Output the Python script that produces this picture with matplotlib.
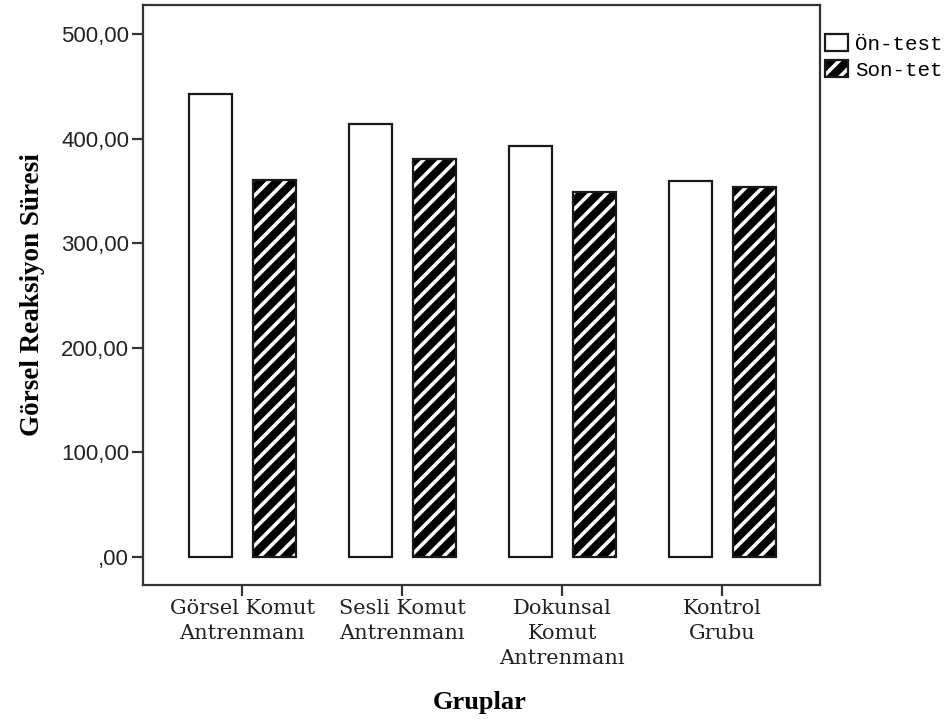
import matplotlib
matplotlib.use("Agg")
import matplotlib.pyplot as plt
import numpy as np
from matplotlib.patches import Patch
from matplotlib.legend_handler import HandlerTuple

categories = ["Görsel Komut\nAntrenmanı", "Sesli Komut\nAntrenmanı",
              "Dokunsal\nKomut\nAntrenmanı", "Kontrol\nGrubu"]
on_test = [443, 414, 393, 360]
son_test = [361, 381, 349, 354]
series_names = ["Ön-test", "Son-tet"]
yticks = [0, 100, 200, 300, 400, 500]
ytick_labels = [",00", "100,00", "200,00", "300,00", "400,00", "500,00"]

plt.rcParams['hatch.linewidth'] = 2.6

fig = plt.figure(figsize=(9.49, 7.19), dpi=100)
ax = fig.add_axes([143/949, 1-585/719, (820-143)/949, (585-5)/719])

x = np.arange(len(categories))
w = 0.27
off = 0.2
edge = "#1a1a1a"
ax.bar(x - off, on_test, w, facecolor="white", edgecolor=edge, linewidth=1.6, zorder=2)
ax.bar(x + off, son_test, w, facecolor="black", edgecolor="white", hatch="//", linewidth=0, zorder=2)
ax.bar(x + off, son_test, w, fill=False, edgecolor=edge, linewidth=1.6, zorder=3)

ax.set_xlim(-0.62, 3.61)
ax.set_ylim(-27, 528)
ax.set_yticks(yticks)
ax.set_yticklabels(ytick_labels, family="Liberation Sans", fontsize=16, color="#222222")
ax.set_xticks(x)
ax.set_xticklabels(categories, family="DejaVu Serif", fontsize=15, color="#222222", linespacing=1.42)
ax.tick_params(axis="both", direction="out", length=8, width=1.6, color="#333333", pad=2)
for s in ax.spines.values():
    s.set_linewidth(1.6)
    s.set_color("#333333")

ax.set_ylabel("Görsel Reaksiyon Süresi", family="Liberation Serif", fontweight="bold", fontsize=19.5)
ax.yaxis.set_label_coords(-0.145, 0.5)
fig.text(480/949, 1-703/719, "Gruplar", family="Liberation Serif", fontweight="bold",
         fontsize=19, ha="center", va="center")

h1 = Patch(facecolor="white", edgecolor=edge, linewidth=1.6)
h2a = Patch(facecolor="black", edgecolor="white", hatch="//", linewidth=0)
h2b = Patch(fill=False, edgecolor=edge, linewidth=1.6)
leg = fig.legend([h1, (h2a, h2b)], series_names, loc="upper left",
                 bbox_to_anchor=(825/949, 1-34/719), frameon=False,
                 prop={"family": "Liberation Mono", "size": 15},
                 handlelength=1.1, handleheight=0.9, handletextpad=0.35,
                 labelspacing=0.3, borderaxespad=0, borderpad=0,
                 handler_map={tuple: HandlerTuple(ndivide=1, pad=0)})

fig.savefig("out.png", dpi=100)
